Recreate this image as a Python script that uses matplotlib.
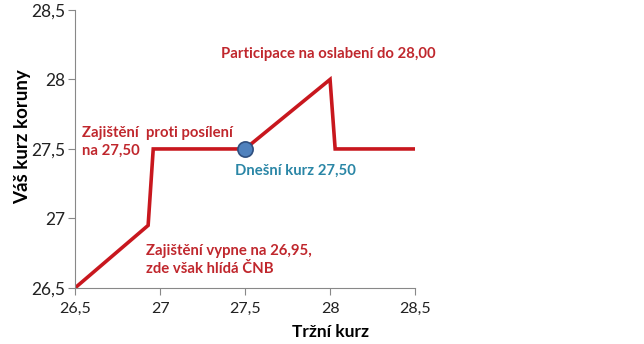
#!/usr/bin/env python3
"""Payoff profile of the hedge: market rate vs. your rate (CZK)."""
import matplotlib
matplotlib.use("Agg")
import matplotlib.pyplot as plt
from matplotlib.ticker import FuncFormatter

# profile vertices (market rate -> your rate)
market = [26.5, 26.93, 26.96, 27.5, 28.0, 28.03, 28.5]
yours = [26.5, 26.95, 27.5, 27.5, 28.0, 27.5, 27.5]
today = (27.5, 27.5)
ticks = [26.5, 27.0, 27.5, 28.0, 28.5]

RED = "#c8171e"
TXT_RED = "#c0272d"
TXT_BLUE = "#2a86a6"

plt.rcParams["font.family"] = ["Lato", "DejaVu Sans"]

fig = plt.figure(figsize=(6.44, 3.44), dpi=100)
ax = fig.add_axes([0.1165, 0.163, 0.528, 0.808])

ax.plot(market, yours, color=RED, lw=2.6, solid_joinstyle="miter", zorder=2)
ax.scatter([today[0]], [today[1]], s=120, color="#4f81bd", edgecolor="#2f4f7f",
           linewidth=1.2, zorder=3)

ax.set_xlim(26.5, 28.5)
ax.set_ylim(26.5, 28.5)
ax.set_xticks(ticks)
ax.set_yticks(ticks)
fmt = FuncFormatter(lambda v, _: f"{v:g}".replace(".", ","))
ax.xaxis.set_major_formatter(fmt)
ax.yaxis.set_major_formatter(fmt)
for s in ("top", "right"):
    ax.spines[s].set_visible(False)
for s in ("left", "bottom"):
    ax.spines[s].set_color("#888888")
ax.tick_params(direction="out", length=5, color="#888888",
               labelcolor="#222222")
ax.tick_params(axis="x", labelsize=11.5, pad=5)
ax.tick_params(axis="y", labelsize=12.5, pad=2)

ax.set_xlabel("Tržní kurz", fontsize=12.5, fontweight="bold")
ax.xaxis.set_label_coords(0.75, -0.13)
ax.set_ylabel("Váš kurz koruny", fontsize=13.5, fontweight="bold")
ax.yaxis.set_label_coords(-0.128, 0.545)

kw = dict(fontsize=10.7, fontweight="bold", ha="left", va="center",
          linespacing=1.35, clip_on=False)
ax.text(26.54, 27.55, "Zajištění  proti posílení\nna 27,50", color=TXT_RED, **kw)
ax.text(27.44, 27.34, "Dnešní kurz 27,50", color=TXT_BLUE, **kw)
ax.text(26.92, 26.70, "Zajištění vypne na 26,95,\nzde však hlídá ČNB", color=TXT_RED, **kw)
ax.text(27.36, 28.18, "Participace na oslabení do 28,00", color=TXT_RED, **kw)

fig.savefig("out.png", dpi=100)
